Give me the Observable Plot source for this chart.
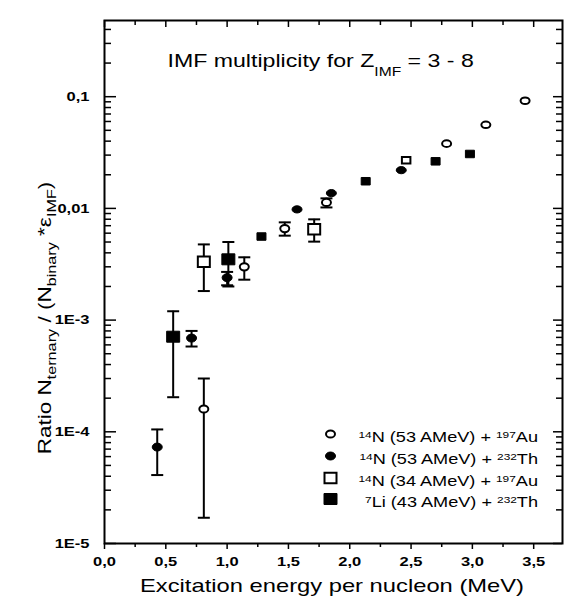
<!DOCTYPE html>
<html>
<head>
<meta charset="utf-8">
<script src="https://cdn.jsdelivr.net/npm/d3@7"></script>
<script src="https://cdn.jsdelivr.net/npm/@observablehq/plot@0.6"></script>
<style>
  html, body { margin: 0; padding: 0; background: #fff; }
  #chart { width: 568px; height: 602px; }
  #chart svg { display: block; }
</style>
</head>
<body>
<div id="chart"></div>
<script>
// ---------------- data ----------------
// Axis ticks and their labels
const xTicks = [0, 0.5, 1, 1.5, 2, 2.5, 3, 3.5];
const xTickLabels = ["0,0", "0,5", "1,0", "1,5", "2,0", "2,5", "3,0", "3,5"];
const yTicks = [1e-5, 1e-4, 1e-3, 1e-2, 1e-1];
const yTickLabels = ["1E-5", "1E-4", "1E-3", "0,01", "0,1"];

// 14N (53 AMeV) + 197Au : open circles
const n53Au_x  = [0.81, 1.14, 1.47, 1.81, 2.79, 3.11, 3.43];
const n53Au_y  = [1.6e-4, 3.0e-3, 6.6e-3, 1.13e-2, 3.8e-2, 5.6e-2, 9.2e-2];
const n53Au_lo = [1.7e-5, 2.3e-3, 5.7e-3, 1.02e-2, null, null, null];
const n53Au_hi = [3.0e-4, 3.65e-3, 7.5e-3, 1.23e-2, null, null, null];

// 14N (53 AMeV) + 232Th : filled circles
const n53Th_x  = [0.43, 0.71, 1.00, 1.57, 1.85, 2.42];
const n53Th_y  = [7.3e-5, 6.9e-4, 2.4e-3, 9.8e-3, 1.37e-2, 2.2e-2];
const n53Th_lo = [4.1e-5, 5.8e-4, 2.05e-3, null, null, null];
const n53Th_hi = [1.05e-4, 8.0e-4, 2.7e-3, null, null, null];

// 14N (34 AMeV) + 197Au : open squares
const n34Au_x  = [0.81, 1.71, 2.46];
const n34Au_y  = [3.33e-3, 6.5e-3, 2.7e-2];
const n34Au_lo = [1.82e-3, 5.04e-3, null];
const n34Au_hi = [4.76e-3, 7.98e-3, null];

// 7Li (43 AMeV) + 232Th : filled squares
const li43Th_x  = [0.56, 1.01, 1.28, 2.13, 2.70, 2.98];
const li43Th_y  = [7.1e-4, 3.5e-3, 5.6e-3, 1.75e-2, 2.64e-2, 3.07e-2];
const li43Th_lo = [2.04e-4, 2.0e-3, null, null, null, null];
const li43Th_hi = [1.2e-3, 5.0e-3, null, null, null, null];

// Texts
const titleParts = [["IMF multiplicity for Z", ""], ["IMF", "sub"], [" = 3 - 8", ""]];
const xLabel = "Excitation energy per nucleon (MeV)";
const yLabelParts = [["Ratio N", ""], ["ternary", "sub"], [" / (N", ""], ["binary", "sub"],
                     [" *", ""], ["\u03B5", ""], ["IMF", "sub"], [")", ""]];
const legendLabels = [
  [["14", "sup"], ["N (53 AMeV) + ", ""], ["197", "sup"], ["Au", ""]],
  [["14", "sup"], ["N (53 AMeV) + ", ""], ["232", "sup"], ["Th", ""]],
  [["14", "sup"], ["N (34 AMeV) + ", ""], ["197", "sup"], ["Au", ""]],
  [["7", "sup"],  ["Li (43 AMeV) + ", ""], ["232", "sup"], ["Th", ""]]
];

// ---------------- layout ----------------
const W = 568, H = 602;
const mL = 104, mR = 6, mT = 20, mB = 59;
const plotW = W - mL - mR, plotH = H - mT - mB;
const FONT = '"Liberation Sans", Arial, Helvetica, sans-serif';
const S = 1.25; // the original typeface is set wide

const rows = (xs, ys, lo, hi) => xs.map((x, i) => ({x, y: ys[i], lo: lo[i], hi: hi[i]}));

// custom symbols (pixel sized)
const ellipse = (rx, ry) => ({draw(c) {
  const k = 0.5523;
  c.moveTo(rx, 0);
  c.bezierCurveTo(rx, ry * k, rx * k, ry, 0, ry);
  c.bezierCurveTo(-rx * k, ry, -rx, ry * k, -rx, 0);
  c.bezierCurveTo(-rx, -ry * k, -rx * k, -ry, 0, -ry);
  c.bezierCurveTo(rx * k, -ry, rx, -ry * k, rx, 0);
  c.closePath();
}});
const rect = (w, h) => ({draw(c) {
  c.moveTo(-w / 2, -h / 2); c.lineTo(w / 2, -h / 2); c.lineTo(w / 2, h / 2); c.lineTo(-w / 2, h / 2); c.closePath();
}});
const cap = (w) => ({draw(c) { c.moveTo(-w / 2, 0); c.lineTo(w / 2, 0); }});
const capSym = cap(12);

const openStyle = {fill: "white", stroke: "black", strokeWidth: 2};
const fillStyle = {fill: "black", stroke: "black", strokeWidth: 1};

const series = [
  {data: rows(n53Au_x, n53Au_y, n53Au_lo, n53Au_hi), big: ellipse(4.5, 3.6), small: ellipse(4.5, 3.3), style: openStyle},
  {data: rows(n53Th_x, n53Th_y, n53Th_lo, n53Th_hi), big: ellipse(5, 4), small: ellipse(5, 3.6), style: fillStyle},
  {data: rows(n34Au_x, n34Au_y, n34Au_lo, n34Au_hi), big: rect(12, 10.5), small: rect(8.5, 6.5), style: openStyle},
  {data: rows(li43Th_x, li43Th_y, li43Th_lo, li43Th_hi), big: rect(13, 11), small: rect(9, 7.5), style: fillStyle}
];

const xMinor = d3.range(0.25, 3.735, 0.5);
const yMinor = d3.range(-5, 0).flatMap(e => d3.range(2, 10).map(m => m * Math.pow(10, e))).filter(v => v < 0.48);

const errMarks = series.flatMap(s => {
  const e = s.data.filter(d => d.lo != null);
  return [
    Plot.ruleX(e, {x: "x", y1: "lo", y2: "hi", stroke: "black", strokeWidth: 2}),
    Plot.dot(e, {x: "x", y: "lo", symbol: capSym, stroke: "black", strokeWidth: 2, fill: "none"}),
    Plot.dot(e, {x: "x", y: "hi", symbol: capSym, stroke: "black", strokeWidth: 2, fill: "none"})
  ];
});
const dotMarks = series.flatMap(s => [
  Plot.dot(s.data.filter(d => d.lo != null), {x: "x", y: "y", symbol: s.big, ...s.style}),
  Plot.dot(s.data.filter(d => d.lo == null), {x: "x", y: "y", symbol: s.small, ...s.style})
]);

const plot = Plot.plot({
  width: W, height: H,
  marginLeft: mL, marginRight: mR, marginTop: mT, marginBottom: mB,
  style: {fontFamily: FONT, fontSize: "13px", color: "black", background: "white"},
  x: {domain: [0, 3.735]},
  y: {type: "log", domain: [1e-5, 0.481]},
  marks: [
    // bottom axis: outward ticks + labels
    Plot.axisX({ticks: xTicks, tickSize: 6, tickPadding: 7, strokeWidth: 1.5,
      tickFormat: d => xTickLabels[xTicks.indexOf(d)], fontWeight: "bold", fontSize: 13.2, label: null}),
    Plot.tickX(xMinor, {x: d => d, insetTop: plotH, insetBottom: -4, strokeWidth: 1.5}),
    // top axis: inward ticks
    Plot.tickX(xTicks, {x: d => d, insetBottom: plotH - 7, strokeWidth: 1.5}),
    Plot.tickX(xMinor, {x: d => d, insetBottom: plotH - 5, strokeWidth: 1.5}),
    // left axis: inward ticks + labels
    Plot.axisY({ticks: yTicks, tickSize: 0, tickPadding: 15,
      tickFormat: d => yTickLabels[yTicks.indexOf(d)], fontWeight: "bold", fontSize: 13.2, label: null}),
    Plot.tickY(yTicks, {y: d => d, insetRight: plotW - 12, strokeWidth: 1.5}),
    Plot.tickY(yMinor, {y: d => d, insetRight: plotW - 7, strokeWidth: 1.5}),
    // right axis: inward ticks
    Plot.tickY(yTicks, {y: d => d, insetLeft: plotW - 9, strokeWidth: 1.5}),
    Plot.tickY(yMinor, {y: d => d, insetLeft: plotW - 6, strokeWidth: 1.5}),
    Plot.frame({stroke: "black", strokeWidth: 2}),
    ...errMarks,
    ...dotMarks
  ]
});

// stretch Plot's own texts horizontally like the original typeface
d3.select(plot).selectAll("text").each(function() {
  const t = this.getAttribute("transform");
  if (t) this.setAttribute("transform", t + ` scale(${S},1)`);
});

const svg = d3.select(plot);
const ann = svg.append("g").attr("font-family", FONT).attr("fill", "black");

function richText(x, y, parts, {size, small, sub = 0, sup = 0, anchor = "start", rotate = 0}) {
  const t = ann.append("text")
    .attr("transform", `translate(${x},${y})${rotate ? ` rotate(${rotate})` : ""} scale(${S},1)`)
    .attr("text-anchor", anchor)
    .attr("font-size", size);
  let cur = 0;
  for (const [s, kind] of parts) {
    const target = kind === "sub" ? sub : kind === "sup" ? -sup : 0;
    t.append("tspan").attr("dy", target - cur).attr("font-size", kind ? small : size).text(s);
    cur = target;
  }
  return t;
}

// title inside the frame
richText(167.5, 66.5, titleParts, {size: 18.5, small: 12.5, sub: 9});
// axis titles
ann.append("text")
  .attr("transform", `translate(332,592) scale(${S},1)`)
  .attr("text-anchor", "middle").attr("font-size", 19).text(xLabel);
richText(51, 318, yLabelParts, {size: 18, small: 13, sub: 5, anchor: "middle", rotate: -90});

// legend
const legX = 330.5, legTextX = 538, legY = [434, 456, 478, 499];
series.forEach((s, i) => {
  const st = s.style;
  ann.append("path")
    .attr("d", d3.symbol(i < 2 ? s.big : s.big)())
    .attr("transform", `translate(${legX},${legY[i]})`)
    .attr("fill", st.fill).attr("stroke", st.stroke).attr("stroke-width", st.strokeWidth);
  richText(legTextX, legY[i] + 8, legendLabels[i], {size: 14.5, small: 9.5, sup: 4.5, anchor: "end"});
});

document.getElementById("chart").appendChild(plot);
</script>
</body>
</html>
